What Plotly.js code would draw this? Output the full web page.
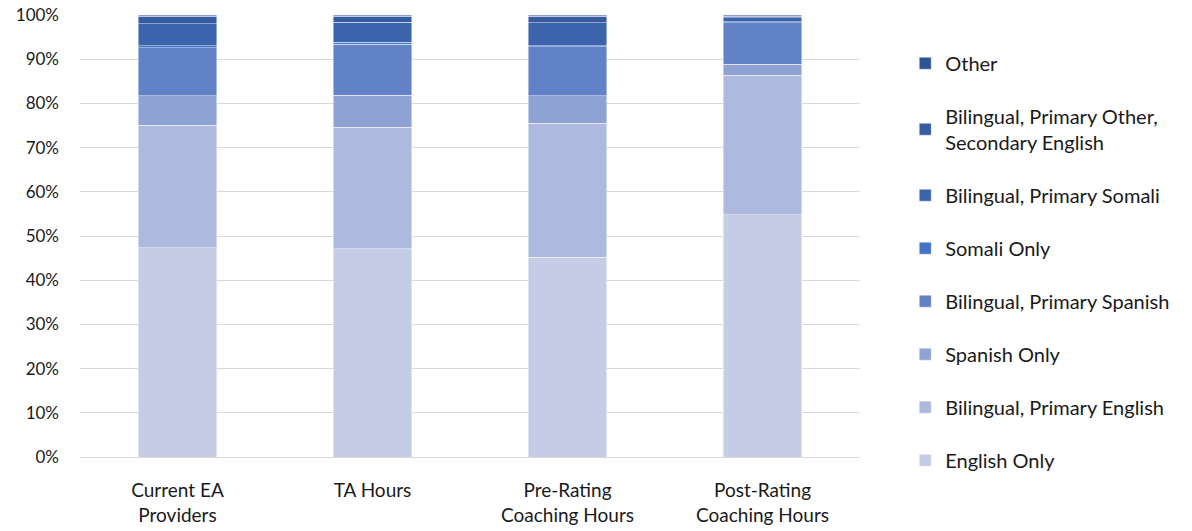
<!DOCTYPE html>
<html>
<head>
<meta charset="utf-8">
<script src="https://cdn.plot.ly/plotly-3.0.1.min.js"></script>
<style>html,body{margin:0;padding:0;background:#fff;}#chart{width:1192px;height:531px;}</style>
</head>
<body>
<div id="chart"></div>
<script>
const categories = ["Current EA<br>Providers", "TA Hours", "Pre-Rating<br>Coaching Hours", "Post-Rating<br>Coaching Hours"];
const englishOnly = [47.3, 47.1, 45.2, 54.8];
const bilingualPrimaryEnglish = [27.8, 27.5, 30.3, 31.6];
const spanishOnly = [6.6, 7.3, 6.2, 2.5];
const bilingualPrimarySpanish = [10.9, 11.5, 11.1, 9.4];
const somaliOnly = [0.4, 0.4, 0.3, 0.2];
const bilingualPrimarySomali = [5.0, 4.6, 5.2, 0.9];
const bilingualPrimaryOther = [1.7, 1.3, 1.4, 0.3];
const other = [0.3, 0.3, 0.3, 0.3];
const yTicks = [0, 10, 20, 30, 40, 50, 60, 70, 80, 90, 100];

const series = [
  {name: "English Only", y: englishOnly, color: "#c5cde6"},
  {name: "Bilingual, Primary English", y: bilingualPrimaryEnglish, color: "#adb9de"},
  {name: "Spanish Only", y: spanishOnly, color: "#8fa2d4"},
  {name: "Bilingual, Primary Spanish", y: bilingualPrimarySpanish, color: "#6282c8"},
  {name: "Somali Only", y: somaliOnly, color: "#4472c4"},
  {name: "Bilingual, Primary Somali", y: bilingualPrimarySomali, color: "#3c64ad"},
  {name: "Bilingual, Primary Other,<br>Secondary English", y: bilingualPrimaryOther, color: "#375ca2"},
  {name: "Other", y: other, color: "#2f5495"}
];

const traces = series.map((s, i) => ({
  type: "bar",
  x: categories,
  y: s.y,
  name: s.name,
  legendgroup: "g" + i,
  legendrank: series.length - i,
  marker: {color: s.color, line: {color: "rgba(255,255,255,0.55)", width: 0.8}},
  hoverinfo: "name+y"
}));

const layout = {
  width: 1192, height: 531,
  barmode: "stack",
  bargap: 0.595,
  margin: {l: 80, r: 332, t: 15, b: 74},
  paper_bgcolor: "#ffffff",
  plot_bgcolor: "#ffffff",
  font: {family: "Lato, 'Open Sans', sans-serif", size: 17, color: "#1a1a1a"},
  xaxis: {showgrid: false, zeroline: false, showline: false, ticks: "", tickfont: {size: 19}, ticklabelstandoff: 20},
  yaxis: {
    range: [0, 100], tickvals: yTicks, ticktext: yTicks.map(v => v + "%"),
    showgrid: true, gridcolor: "#d9d9d9", gridwidth: 1,
    zeroline: true, zerolinecolor: "#d9d9d9", zerolinewidth: 1,
    showline: false, ticks: "", ticklabelstandoff: 20, tickfont: {size: 17}
  },
  showlegend: true,
  legend: {
    x: 1.058, xanchor: "left", y: 0.935, yanchor: "top",
    traceorder: "grouped", tracegroupgap: 24,
    font: {size: 20, color: "#1a1a1a"}, itemwidth: 30,
    bgcolor: "rgba(0,0,0,0)"
  }
};

Plotly.newPlot("chart", traces, layout, {displayModeBar: false, staticPlot: true});
</script>
</body>
</html>
